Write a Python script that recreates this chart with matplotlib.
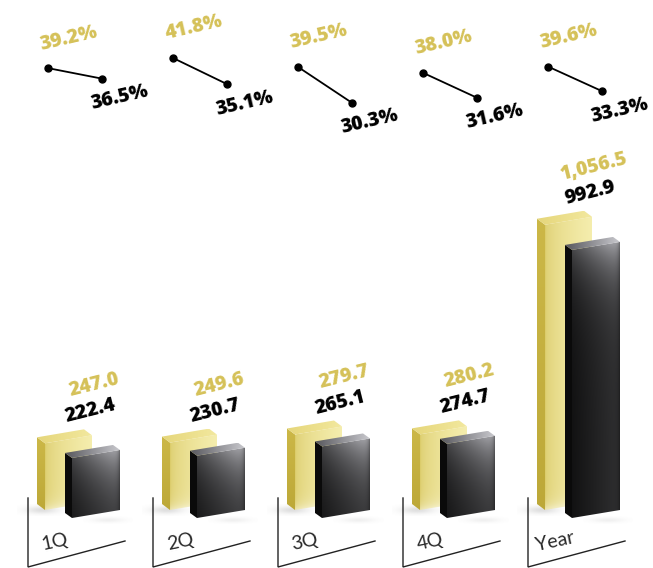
import numpy as np
import matplotlib.pyplot as plt
from matplotlib.patches import Polygon

categories = ['1Q', '2Q', '3Q', '4Q', 'Year']
prev_sales = [247.0, 249.6, 279.7, 280.2, 1056.5]
curr_sales = [222.4, 230.7, 265.1, 274.7, 992.9]
prev_ratio = [39.2, 41.8, 39.5, 38.0, 39.6]
curr_ratio = [36.5, 35.1, 30.3, 31.6, 33.3]

GOLD_TXT = '#D5C158'
NUM_FONT = ['Open Sans', 'DejaVu Sans']
CAT_FONT = ['Lato', 'DejaVu Sans']

W, H = 653, 568
GAP = 125.0      # px between groups
K = 0.27         # px per sales unit
X0 = 28          # px of first group's bracket
Y0 = 518         # px of zero baseline
PK = 3.9         # px per percent point
P40 = 65         # px where 40% sits


def dx(p):
    return p / GAP


def dy(p):
    return p / K


def fill_face(ax, verts, img, z):
    poly = Polygon(verts, closed=True, facecolor='none', edgecolor='none', zorder=z)
    ax.add_patch(poly)
    xs = [v[0] for v in verts]
    ys = [v[1] for v in verts]
    im = ax.imshow(img, extent=(min(xs), max(xs), min(ys), max(ys)), origin='lower',
                   aspect='auto', interpolation='bilinear', zorder=z)
    im.set_clip_path(poly)


def front_grid(val, width_px, slant_px, ny=160, nx=50):
    h_px = val * K + slant_px
    u = np.linspace(0, 1, nx)[None, :]
    yp = np.linspace(0, h_px, ny)[:, None]
    top = val * K + u * slant_px
    d = np.clip(top - yp, 0, None)
    base_y = yp - u * slant_px
    return u, d, base_y


def gold_box(ax, xl, val, z):
    width_px, slant_px, depth = 47, 8, (-8, 6)
    b0 = dy(8)
    t0 = b0 + val
    xr = xl + dx(width_px)
    s = dy(slant_px)
    ddx, ddy = dx(depth[0]), dy(depth[1])
    u, d, by = front_grid(val, width_px, slant_px)
    c_dark = np.array([0.86, 0.80, 0.42])
    c_light = np.array([0.96, 0.93, 0.68])
    img = c_dark + (c_light - c_dark) * np.sqrt(u)[..., None]
    img = img * np.ones_like(d)[..., None]
    fade = (0.45 * np.exp(-np.clip(by, 0, None) / 6))[..., None]
    img = img * (1 - fade) + fade
    fill_face(ax, [(xl, b0), (xr, b0 + s), (xr, t0 + s), (xl, t0)], np.clip(img, 0, 1), z)
    t = np.linspace(0, 1, 100)[:, None, None]
    side = np.array([0.74, 0.66, 0.22]) * (1 - t) + np.array([0.80, 0.72, 0.28]) * t
    side = side * np.ones((1, 4, 1))
    fill_face(ax, [(xl, b0), (xl, t0), (xl + ddx, t0 + ddy), (xl + ddx, b0 + ddy)], side, z)
    tt = np.linspace(0, 1, 30)[None, :, None]
    top = np.array([0.90, 0.84, 0.48]) * (1 - tt) + np.array([0.95, 0.91, 0.62]) * tt
    top = top * np.ones((6, 1, 1))
    fill_face(ax, [(xl, t0), (xr, t0 + s), (xr + ddx, t0 + s + ddy), (xl + ddx, t0 + ddy)], top, z)


def black_box(ax, xl, val, z):
    width_px, slant_px, depth = 48, 8, (-7, 5)
    b0 = 0
    t0 = val
    xr = xl + dx(width_px)
    s = dy(slant_px)
    ddx, ddy = dx(depth[0]), dy(depth[1])
    u, d, by = front_grid(val, width_px, slant_px)
    g = 0.07 + 0.12 * u + 0.50 * np.exp(-d / 35) * (0.40 + 0.60 * u)
    g = g * (1 - 0.35 * np.exp(-(1 - u) / 0.05))
    img = np.stack([g, g, g * 1.03], axis=-1)
    fill_face(ax, [(xl, b0), (xr, b0 + s), (xr, t0 + s), (xl, t0)], np.clip(img, 0, 1), z)
    side = np.full((4, 4, 3), 0.04)
    fill_face(ax, [(xl, b0), (xl, t0), (xl + ddx, t0 + ddy), (xl + ddx, b0 + ddy)], side, z)
    tt = np.linspace(0, 1, 30)[None, :, None]
    top = np.array([0.35, 0.35, 0.37]) * (1 - tt) + np.array([0.78, 0.78, 0.80]) * tt
    top = top * np.ones((6, 1, 1))
    fill_face(ax, [(xl, t0), (xr, t0 + s), (xr + ddx, t0 + s + ddy), (xl + ddx, t0 + ddy)], top, z)


def shadow(ax, xc, yc, w_px, h_px, alpha, z):
    xx = np.linspace(-1, 1, 80)[None, :]
    yy = np.linspace(-1, 1, 30)[:, None]
    a = alpha * np.exp(-(xx ** 2 + yy ** 2) * 2.5)
    img = np.zeros((30, 80, 4))
    img[..., :3] = 0.5
    img[..., 3] = a
    ax.imshow(img, extent=(xc - dx(w_px / 2), xc + dx(w_px / 2), yc - dy(h_px / 2), yc + dy(h_px / 2)),
              origin='lower', aspect='auto', interpolation='bilinear', zorder=z)


fig = plt.figure(figsize=(W / 100, H / 100), dpi=100)
ax = fig.add_axes([0, 0, 1, 1])

for i, cat in enumerate(categories):
    shadow(ax, i + dx(14), dy(8), 50, 12, 0.25, 1)
    shadow(ax, i + dx(80), dy(-2), 50, 8, 0.12, 1)
    gold_box(ax, i + dx(45 - X0), prev_sales[i], 2)
    black_box(ax, i + dx(72 - X0), curr_sales[i], 3)

    lab_y = prev_sales[i] + dy(8 + 58)
    ax.annotate(f'{prev_sales[i]:,.1f}', (i + dx(66), lab_y), ha='center', va='center',
                rotation=14, fontsize=14, fontweight=800, color=GOLD_TXT, family=NUM_FONT, zorder=5)
    ax.annotate(f'{curr_sales[i]:,.1f}', (i + dx(62), lab_y), xytext=(0, -26), textcoords='offset pixels',
                ha='center', va='center', rotation=14, fontsize=14, fontweight=800, color='black',
                family=NUM_FONT, zorder=5)

    ax.plot([i, i, i + dx(97)], [dy(20), dy(-49), dy(-23)], color='#222222', lw=1.0,
            solid_joinstyle='miter', zorder=4)
    ax.text(i + dx(27), dy(-24), cat, ha='center', va='center', rotation=12, fontsize=14,
            fontweight='normal', color='#2a2a2a', family=CAT_FONT, zorder=5)

ax.set_xlim(-X0 / GAP, (W - X0) / GAP)
ax.set_ylim(-(H - Y0) / K, Y0 / K)
ax.axis('off')

# ratio slopes on their own scale
ax2 = fig.add_axes([0, 0, 1, 1])
ax2.set_facecolor('none')
for i in range(len(categories)):
    xs = [i + dx(20), i + dx(74)]
    ax2.plot(xs, [prev_ratio[i], curr_ratio[i]], color='black', lw=1.3, marker='o', ms=5)
    ax2.annotate(f'{prev_ratio[i]:.1f}%', (xs[0], prev_ratio[i]), xytext=(21, 30), textcoords='offset pixels',
                 ha='center', va='center', rotation=13, fontsize=14, fontweight=800, color=GOLD_TXT,
                 family=NUM_FONT)
    ax2.annotate(f'{curr_ratio[i]:.1f}%', (xs[1], curr_ratio[i]), xytext=(18, -19), textcoords='offset pixels',
                 ha='center', va='center', rotation=13, fontsize=14, fontweight=800, color='black',
                 family=NUM_FONT)
ax2.set_xlim(-X0 / GAP, (W - X0) / GAP)
ax2.set_ylim(40 - (H - P40) / PK, 40 + P40 / PK)
ax2.axis('off')

plt.savefig('out.png', dpi=100)
